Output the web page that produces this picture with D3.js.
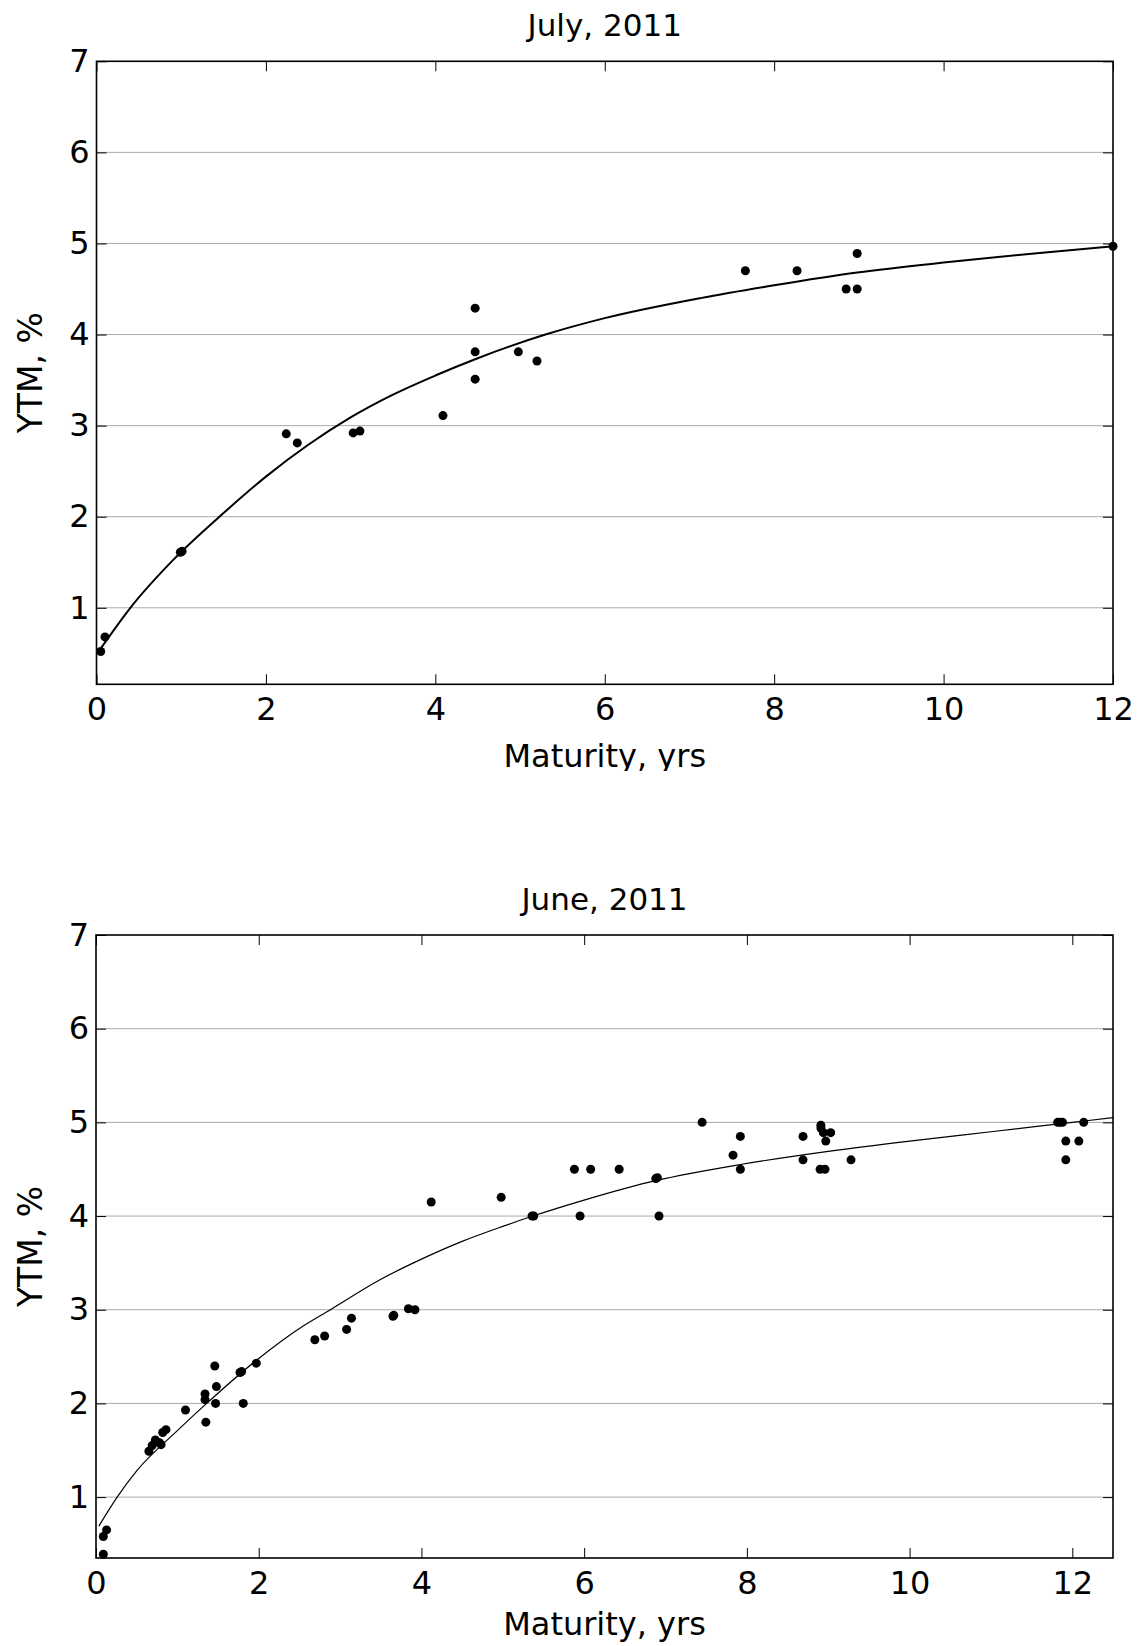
<!DOCTYPE html>
<html>
<head>
<meta charset="utf-8">
<script src="https://cdn.jsdelivr.net/npm/d3@7"></script>
<style>
  body { margin: 0; background: #fff; }
  svg { display: block; }
  text { font-family: "DejaVu Sans", Verdana, sans-serif; fill: #000; }
</style>
</head>
<body>
<script>

// yields (maturity in yrs, YTM in %)
var julyPoints = [[0.05, 0.52], [0.1, 0.68], [0.99, 1.61], [1.01, 1.62],
                  [2.24, 2.91], [2.37, 2.81], [3.03, 2.92], [3.11, 2.94],
                  [4.09, 3.11], [4.47, 4.29], [4.47, 3.81], [4.47, 3.51],
                  [4.98, 3.81], [5.2, 3.71], [7.66, 4.70], [8.27, 4.70],
                  [8.85, 4.50], [8.98, 4.89], [8.98, 4.50], [12.0, 4.97]]

var julyFit = [[0.04, 0.54], [0.4, 1.0], [0.9, 1.52], [1.5, 2.04], [2, 2.44],
               [2.5, 2.79], [3, 3.09], [3.5, 3.34], [4, 3.55], [4.5, 3.74],
               [5.3, 4.0], [6, 4.18], [7.13, 4.40], [8, 4.54], [8.98, 4.68],
               [10, 4.79], [11.07, 4.89], [12, 4.97]]

var junePoints = [[0.09, 0.39], [0.09, 0.58], [0.13, 0.65],
                  [0.65, 1.49], [0.69, 1.55], [0.73, 1.61], [0.78, 1.58],
                  [0.80, 1.56], [0.82, 1.69], [0.86, 1.72],
                  [1.10, 1.93], [1.34, 2.10], [1.34, 2.04], [1.35, 1.80],
                  [1.46, 2.40], [1.48, 2.18], [1.47, 2.0], [1.77, 2.33],
                  [1.79, 2.34], [1.81, 2.0], [1.97, 2.43],
                  [2.69, 2.68], [2.81, 2.72], [3.08, 2.79], [3.14, 2.91],
                  [3.65, 2.93], [3.66, 2.94], [3.84, 3.01], [3.92, 3.0],
                  [4.12, 4.15], [4.98, 4.20], [5.36, 4.0], [5.38, 4.0],
                  [5.88, 4.5], [5.95, 4.0], [6.08, 4.5], [6.43, 4.5],
                  [6.88, 4.40], [6.90, 4.41], [6.92, 4.0],
                  [7.45, 5.0], [7.83, 4.65], [7.92, 4.85], [7.92, 4.5],
                  [8.69, 4.85], [8.69, 4.60], [8.91, 4.97], [8.91, 4.94],
                  [8.94, 4.89], [9.03, 4.89], [8.97, 4.80], [8.90, 4.5],
                  [8.96, 4.5], [9.28, 4.6],
                  [11.82, 5.0], [11.85, 5.0], [11.88, 5.0], [12.14, 5.0],
                  [11.92, 4.80], [12.08, 4.80], [11.92, 4.60]]

var juneFit = [[0.035, 0.69], [0.26, 1.0], [0.5, 1.28], [1, 1.71], [1.36, 2.0],
               [2, 2.48], [2.5, 2.8], [2.88, 3.0], [3.49, 3.32], [4, 3.54],
               [4.5, 3.73], [5, 3.89], [5.37, 4.0], [6, 4.17], [6.89, 4.38],
               [7.92, 4.55], [9, 4.69], [10, 4.80], [11, 4.90], [12, 5.0],
               [12.5, 5.05]]

var xTicks = [0, 2, 4, 6, 8, 10, 12]
var yTicks = [1, 2, 3, 4, 5, 6, 7]
var gridTicks = [1, 2, 3, 4, 5, 6]

var svg = d3.select("body")
            .append("svg")
            .attr("width", 1143)
            .attr("height", 1646)

// the upper figure is cut just under its x label
svg.append("defs")
   .append("clipPath")
   .attr("id", "topcut")
   .append("rect")
   .attr("x", 0)
   .attr("y", 0)
   .attr("width", 1143)
   .attr("height", 771)

function panel (opts) {
  var g = svg.append("g")
  if (opts.clip) g.attr("clip-path", "url(#topcut)")

  var x = d3.scaleLinear().domain(opts.xDomain).range([opts.left, opts.right])
  var y = d3.scaleLinear().domain(opts.yDomain).range([opts.bottom, opts.top])
  var w = opts.right - opts.left
  var h = opts.bottom - opts.top

  // horizontal grid
  g.selectAll(".grid")
   .data(gridTicks)
   .enter()
   .append("line")
   .attr("x1", opts.left)
   .attr("x2", opts.right)
   .attr("y1", d => y(d))
   .attr("y2", d => y(d))
   .attr("stroke", "#aaa")
   .attr("stroke-width", 1)

  var bottomAxis = g.append("g")
                    .attr("transform", "translate(0," + opts.bottom + ")")
                    .call(d3.axisBottom(x).tickValues(xTicks).tickSize(-10)
                            .tickSizeOuter(0).tickPadding(13).tickFormat(d3.format("d")))
  var topAxis = g.append("g")
                 .attr("transform", "translate(0," + opts.top + ")")
                 .call(d3.axisTop(x).tickValues(xTicks).tickSize(-10)
                         .tickSizeOuter(0).tickFormat(""))
  var leftAxis = g.append("g")
                  .attr("transform", "translate(" + opts.left + ",0)")
                  .call(d3.axisLeft(y).tickValues(yTicks).tickSize(-10)
                          .tickSizeOuter(0).tickPadding(7).tickFormat(d3.format("d")))
  var rightAxis = g.append("g")
                   .attr("transform", "translate(" + opts.right + ",0)")
                   .call(d3.axisRight(y).tickValues(yTicks).tickSize(-10)
                           .tickSizeOuter(0).tickFormat(""))

  ;[bottomAxis, topAxis, leftAxis, rightAxis].forEach(function (a) {
    a.select(".domain").remove()
    a.selectAll("line").attr("stroke", "#000").attr("stroke-width", 1)
    a.selectAll("text")
     .style("font-family", "'DejaVu Sans', Verdana, sans-serif")
     .style("font-size", "32px")
     .attr("fill", "#000")
  })

  g.append("rect")
   .attr("x", opts.left)
   .attr("y", opts.top)
   .attr("width", w)
   .attr("height", h)
   .attr("fill", "none")
   .attr("stroke", "#000")
   .attr("stroke-width", 1.6)

  var line = d3.line()
               .x(d => x(d[0]))
               .y(d => y(d[1]))
               .curve(d3.curveMonotoneX)

  g.append("path")
   .datum(opts.fit)
   .attr("d", line)
   .attr("fill", "none")
   .attr("stroke", "#000")
   .attr("stroke-width", opts.lineWidth)

  g.selectAll(".pt")
   .data(opts.points)
   .enter()
   .append("circle")
   .attr("class", "pt")
   .attr("cx", d => x(d[0]))
   .attr("cy", d => y(d[1]))
   .attr("r", 4.5)
   .attr("fill", "#000")

  g.append("text")
   .attr("x", (opts.left + opts.right) / 2)
   .attr("y", opts.top - 25)
   .attr("text-anchor", "middle")
   .style("font-size", "31px")
   .text(opts.title)

  g.append("text")
   .attr("x", (opts.left + opts.right) / 2)
   .attr("y", opts.xLabelY)
   .attr("text-anchor", "middle")
   .style("font-size", "32px")
   .text("Maturity, yrs")

  g.append("text")
   .attr("transform", "translate(42," + (opts.top + opts.bottom) / 2 + ") rotate(-90)")
   .attr("text-anchor", "middle")
   .style("font-size", "33px")
   .text("YTM, %")
}

panel({
  title: "July, 2011",
  points: julyPoints,
  fit: julyFit,
  xDomain: [0, 12],
  yDomain: [0.16, 7],
  left: 96.5, right: 1113, top: 61.3, bottom: 684.3,
  xLabelY: 767,
  lineWidth: 2,
  clip: true
})

panel({
  title: "June, 2011",
  points: junePoints,
  fit: juneFit,
  xDomain: [0, 12.5],
  yDomain: [0.35, 7],
  left: 96, right: 1113, top: 935, bottom: 1558,
  xLabelY: 1635,
  lineWidth: 1.2,
  clip: false
})

</script>
</body>
</html>
